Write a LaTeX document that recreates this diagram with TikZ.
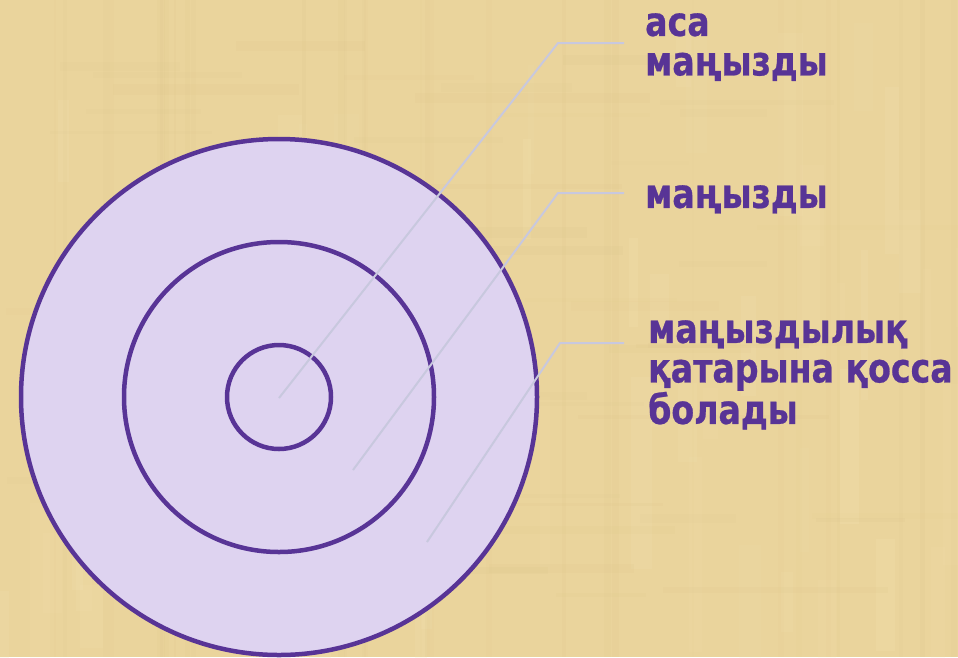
\documentclass[tikz,border=0pt]{standalone}
\usepackage{fontspec}
\setmainfont{DejaVu Sans}
\newfontfamily\lblfont{DejaVu Sans}[FakeStretch=0.82,FakeBold=0.6]
\definecolor{parch}{RGB}{234,212,156}
\definecolor{parchlight}{RGB}{245,228,182}
\definecolor{parchdark}{RGB}{216,192,132}
\definecolor{ringfill}{RGB}{222,211,240}
\definecolor{ringline}{RGB}{88,52,150}
\definecolor{txtpurple}{RGB}{88,52,150}
\definecolor{leader}{RGB}{200,200,222}
\tikzset{
  ring/.style={circle, draw=ringline, line width=4.5pt, fill=ringfill, inner sep=0pt},
  leaderline/.style={draw=leader, line width=2pt},
  lbl/.style={anchor=north west, inner sep=0pt, align=left, text=txtpurple,
    font=\lblfont\fontsize{40.5}{39.5}\selectfont\bfseries}
}
\begin{document}
\begin{tikzpicture}[x=1pt,y=-1pt]
\useasboundingbox (0,0) rectangle (958,657);
\fill[parch] (0,0) rectangle (958,657);
% parchment texture
\pgfmathsetseed{7}
\foreach \i in {1,...,60}{
  \pgfmathsetmacro{\xx}{rnd*958}
  \pgfmathsetmacro{\ww}{6+rnd*20}
  \pgfmathsetmacro{\op}{0.08+rnd*0.12}
  \pgfmathsetmacro{\yy}{rnd*600}
  \pgfmathsetmacro{\hh}{40+rnd*160}
  \fill[parchlight, opacity=\op] (\xx,\yy) rectangle ++(\ww,\hh);
}
\foreach \i in {1,...,50}{
  \pgfmathsetmacro{\yy}{rnd*657}
  \pgfmathsetmacro{\hh}{3+rnd*8}
  \pgfmathsetmacro{\op}{0.04+rnd*0.08}
  \pgfmathsetmacro{\xx}{rnd*850}
  \pgfmathsetmacro{\ww}{60+rnd*200}
  \fill[parchdark, opacity=\op] (\xx,\yy) rectangle ++(\ww,\hh);
}
\foreach \i in {1,...,30}{
  \pgfmathsetmacro{\xx}{rnd*958}
  \pgfmathsetmacro{\ww}{2+rnd*5}
  \pgfmathsetmacro{\op}{0.04+rnd*0.08}
  \fill[parchdark, opacity=\op] (\xx,0) rectangle ++(\ww,657);
}
% rings
\node[ring, minimum size=516pt] (outer) at (279,397) {};
\node[ring, minimum size=310pt] (middle) at (279,397) {};
\node[ring, minimum size=104pt] (inner) at (279,397) {};
% labels
\node[lbl] (l1) at (645,13) {аса\\маңызды};
\node[lbl] (l2) at (645,185) {маңызды};
\node[lbl] (l3) at (648,320) {маңыздылық\\қатарына қосса\\болады};
% leader points
\coordinate (s1) at (279,398);
\coordinate (s2) at (353,470);
\coordinate (s3) at (427,542);
\coordinate (e1) at (558,43);
\coordinate (e2) at (558,193);
\coordinate (e3) at (560,343);
\coordinate (t1) at (624,43);
\coordinate (t2) at (624,193);
\coordinate (t3) at (624,343);
\draw[leaderline] (s1) -- (e1) -- (t1);
\draw[leaderline] (s2) -- (e2) -- (t2);
\draw[leaderline] (s3) -- (e3) -- (t3);
\end{tikzpicture}
\end{document}
